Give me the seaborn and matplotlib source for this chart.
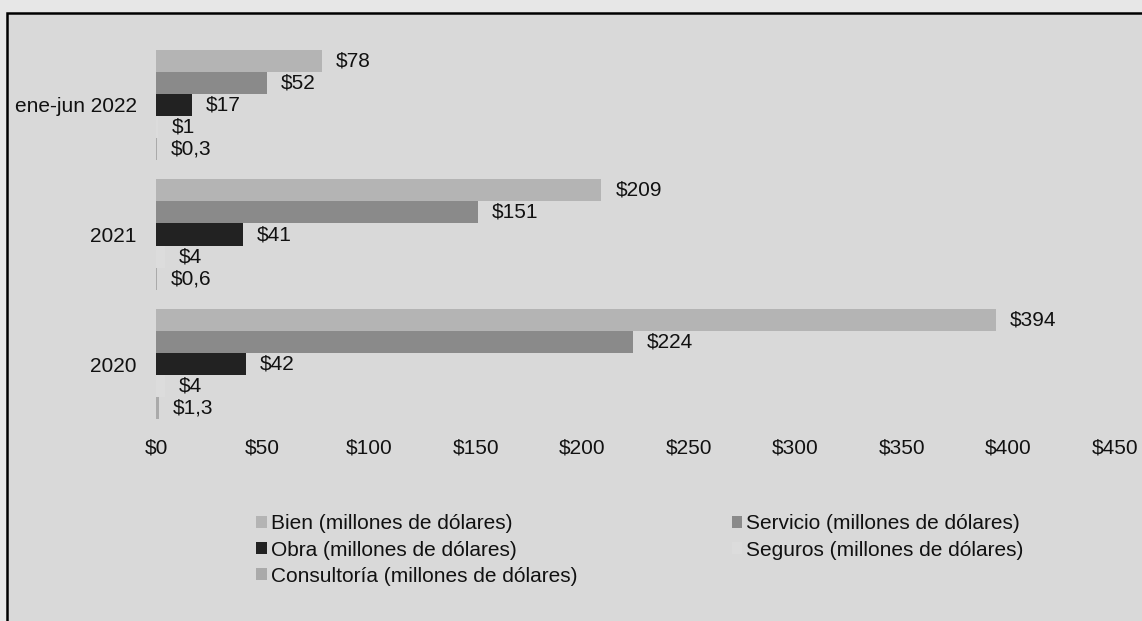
import seaborn as sns
import matplotlib
matplotlib.use("Agg")
import matplotlib.pyplot as plt
from matplotlib.patches import Rectangle
import pandas as pd

# data (millones de dólares)
periodos = ["ene-jun 2022", "2021", "2020"]
series = [
    "Bien (millones de dólares)",
    "Servicio (millones de dólares)",
    "Obra (millones de dólares)",
    "Seguros (millones de dólares)",
    "Consultoría (millones de dólares)",
]
bien = [78, 209, 394]
servicio = [52, 151, 224]
obra = [17, 41, 42]
seguros = [1, 4, 4]
consultoria = [0.3, 0.6, 1.3]
x_ticks = [0, 50, 100, 150, 200, 250, 300, 350, 400, 450]

colores = ["#b4b4b4", "#8a8a8a", "#222222", "#dcdcdc", "#aaaaaa"]

rows = []
for serie, valores in zip(series, [bien, servicio, obra, seguros, consultoria]):
    for periodo, v in zip(periodos, valores):
        rows.append({"periodo": periodo, "serie": serie, "valor": v})
df = pd.DataFrame(rows)

sns.set_style("white")
plt.rcParams["font.family"] = ["Liberation Sans", "DejaVu Sans"]
plt.rcParams["font.size"] = 15
plt.rcParams["text.color"] = "#111111"

fig = plt.figure(figsize=(11.42, 6.21), dpi=100, facecolor="#e7e7e7")
# panel with black border
fig.patches.append(Rectangle((7 / 1142, -0.02), 1.05, 1 - 13 / 621 + 0.02,
                             transform=fig.transFigure, facecolor="#d9d9d9",
                             edgecolor="black", linewidth=1.8, zorder=-1))

ax = fig.add_axes([156 / 1142, 1 - 429 / 621, (1115 - 156) / 1142, (429 - 40) / 621])
ax.set_facecolor("none")
ax.set_zorder(2)

sns.barplot(data=df, y="periodo", x="valor", hue="serie", order=periodos,
            hue_order=series, palette=colores, saturation=1, width=0.85,
            orient="h", ax=ax, errorbar=None, linewidth=0, edgecolor="none")

for cont in ax.containers:
    labels = [("$%g" % b.get_width()).replace(".", ",") for b in cont]
    ax.bar_label(cont, labels=labels, padding=10, fontsize=15, color="#111111")

ax.set_xlim(0, 450)
ax.set_xticks(x_ticks)
ax.set_xticklabels(["$%d" % t for t in x_ticks])
ax.set_xlabel("")
ax.set_ylabel("")
ax.tick_params(axis="both", length=0, labelsize=15, colors="#111111")
ax.tick_params(axis="y", pad=14)
ax.tick_params(axis="x", pad=7)
sns.despine(ax=ax, left=True, bottom=True)

handles, labels = ax.get_legend_handles_labels()
ax.get_legend().remove()
for h in handles:
    h.set_edgecolor("none")
orden = [0, 2, 4, 1, 3]
leg = fig.legend([handles[i] for i in orden], [labels[i] for i in orden],
                 loc="center", bbox_to_anchor=(640 / 1142, 1 - 550 / 621),
                 ncol=2, frameon=False, fontsize=15, handlelength=0.5,
                 handleheight=0.5, handletextpad=0.2, columnspacing=7.4,
                 labelspacing=0.35)
leg.set_zorder(3)

fig.savefig("out.png", dpi=100, facecolor=fig.get_facecolor())
